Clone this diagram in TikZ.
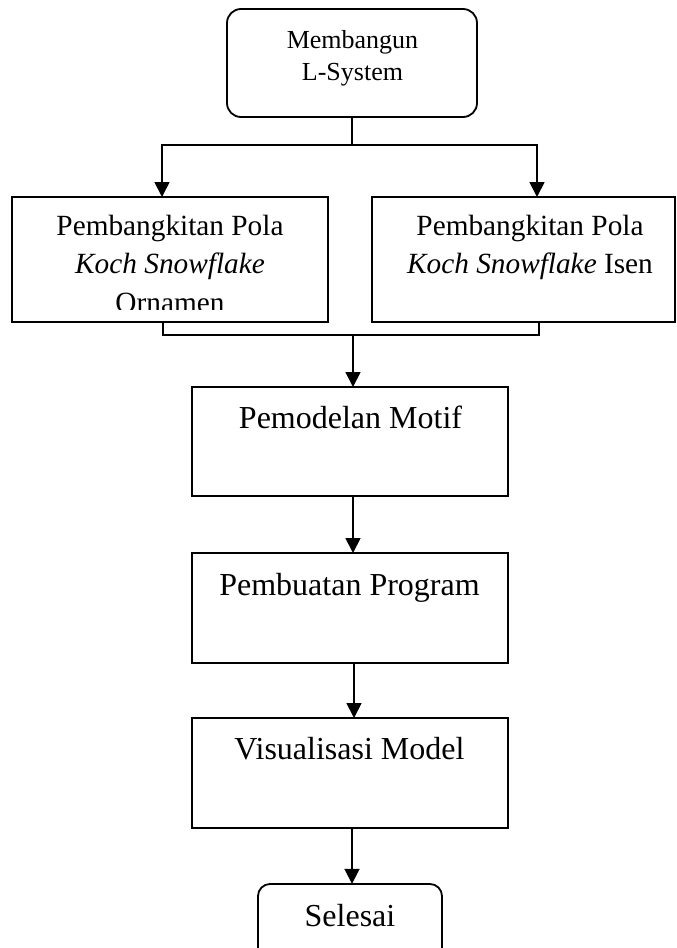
\documentclass[tikz,border=0pt]{standalone}
\usepackage{fontspec}
\setmainfont{Liberation Serif}
\usetikzlibrary{arrows.meta}
\begin{document}
\begin{tikzpicture}[x=1pt,y=-1pt,
  box/.style={draw=black,line width=1.8pt,fill=none,inner sep=0pt,outer sep=0pt},
  rbox/.style={box,rounded corners=14pt},
  txt/.style={anchor=base,inner sep=0pt},
  small/.style={font=\fontsize{26}{31}\selectfont},
  mid/.style={font=\fontsize{29.3}{35}\selectfont},
  big/.style={font=\fontsize{32}{38}\selectfont},
  line/.style={draw=black,line width=1.8pt},
  arr/.style={line,-{Triangle[length=15pt,width=15pt]}}]
\useasboundingbox (0,0) rectangle (677,948);
\clip (0,0) rectangle (677,948);
% boxes
\draw[rbox] (227,9) rectangle (477,117);
\node[inner sep=0pt] (top) at (352,63) [minimum width=250pt,minimum height=108pt] {};
\node[box,minimum width=316pt,minimum height=125pt] (left) at (170,259.5) {};
\node[box,minimum width=303pt,minimum height=125pt] (right) at (523.5,259.5) {};
\node[box,minimum width=316pt,minimum height=109pt] (motif) at (350,441.5) {};
\node[box,minimum width=316pt,minimum height=110pt] (prog) at (350,608) {};
\node[box,minimum width=316pt,minimum height=110pt] (vis) at (350,773) {};
\draw[rbox,rounded corners=12pt] (258,884) rectangle (442,975);
\node[inner sep=0pt,minimum width=184pt,minimum height=91pt] (end) at (350,929.5) {};
% texts
\node[txt,small] (t1) at (352.5,48) {Membangun};
\node[txt,small] (t2) at (352.5,80) {L-System};
\node[txt,mid] (l1) at (170,235) {Pembangkitan Pola};
\node[txt,mid] (l2) at (170,273) {\itshape Koch Snowflake};
\begin{scope}
\clip (12,280) rectangle (328,309);
\node[txt,mid] (l3) at (170,312) {Ornamen};
\end{scope}
\node[txt,mid] (r1) at (530,235) {Pembangkitan Pola};
\node[txt,mid] (r2) at (530,273) {\textit{Koch Snowflake} Isen};
\node[txt,big] (m1) at (350.5,428) {Pemodelan Motif};
\node[txt,big] (p1) at (349.5,595) {Pembuatan Program};
\node[txt,big] (v1) at (349.5,759) {Visualisasi Model};
\node[txt,big] (s1) at (350,926) {Selesai};
% connectors
\coordinate (j1) at (352,145);
\coordinate (j2) at (353,335);
\draw[line] (top.south) -- (j1);
\draw[arr] (j1) -| ([xshift=-8pt]left.north);
\draw[arr] (j1) -| ([xshift=13.5pt]right.north);
\draw[line] ([xshift=-7pt]left.south) |- (j2);
\draw[line] ([xshift=15.5pt]right.south) |- (j2);
\draw[arr] (j2) -- (j2 |- motif.north);
\draw[arr] ([xshift=3pt]motif.south) -- ([xshift=3pt]prog.north);
\draw[arr] ([xshift=4pt]prog.south) -- ([xshift=4pt]vis.north);
\draw[arr] ([xshift=2pt]vis.south) -- ([xshift=2pt]end.north);
\end{tikzpicture}
\end{document}
